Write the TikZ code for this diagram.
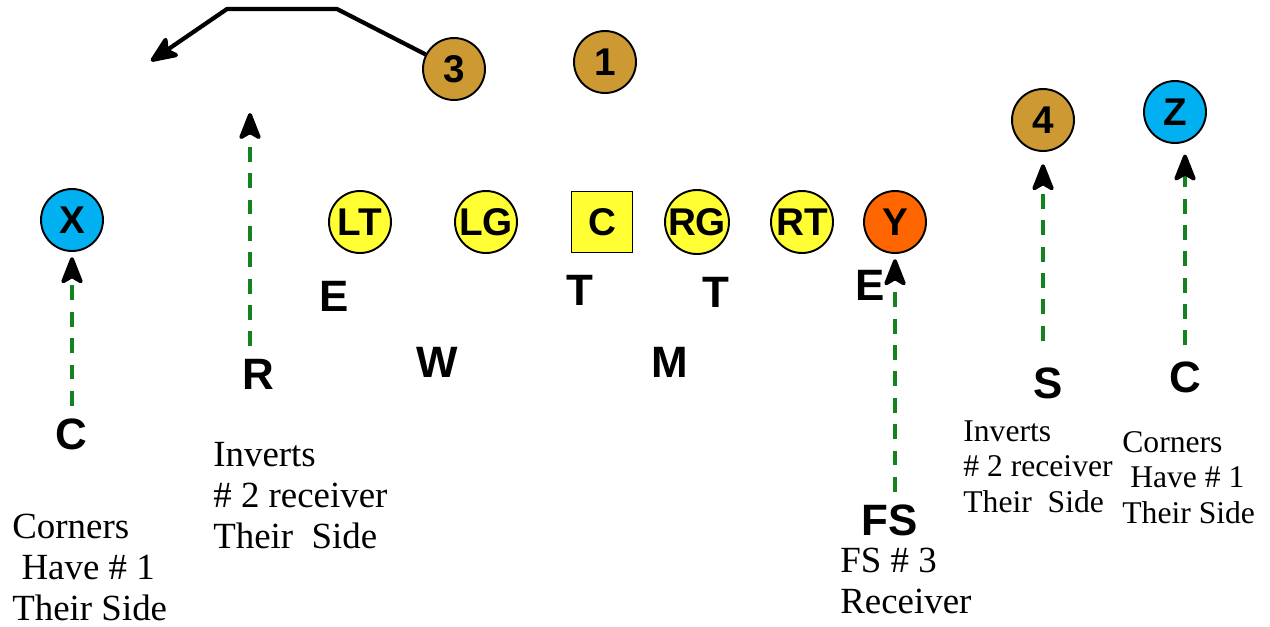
\documentclass[tikz,border=0pt]{standalone}
\usepackage{fontspec}
\setmainfont{Liberation Serif}
\setsansfont{Liberation Sans}
\usetikzlibrary{positioning, arrows.meta}
\definecolor{backgold}{RGB}{204,153,51}
\definecolor{wideblue}{RGB}{0,176,240}
\definecolor{lineyellow}{RGB}{255,255,51}
\definecolor{endorange}{RGB}{255,102,0}
\definecolor{readgreen}{RGB}{20,130,30}
\tikzstyle{Read} = [
%Dashed green read with a black tip:
line width = 2.2pt, draw = readgreen,
dash pattern = on 8.5pt off 6.5pt,
-{Stealth[black, round, length = 18pt, width = 14pt, inset = 4pt]},
shorten <= 7pt, shorten >= 3pt
]
\tikzstyle{Route} = [
line width = 2.4pt, line join = round,
-{Stealth[round, length = 18pt, width = 15pt, inset = 4pt]}
]

\begin{document}
\begin{tikzpicture}[x = 0.02cm, y = -0.02cm,
			player/.style = {circle, draw, line width = 1.1pt, minimum size = 1.24cm, inner sep = 0pt, font = \sffamily\bfseries\fontsize{22}{22}\selectfont},
			lineman/.style = {player, fill = lineyellow},
			back/.style = {player, fill = backgold},
			wide/.style = {player, fill = wideblue},
			snap/.style = {player, rectangle, minimum size = 1.22cm},
			defender/.style = {inner sep = 0pt, font = \sffamily\bfseries\fontsize{25}{25}\selectfont},
			note/.style = {inner sep = 0pt, align = left, anchor = base west, font = \fontsize{21}{23.3}\selectfont},
			smallnote/.style = {note, font = \fontsize{18}{20}\selectfont},
		]
		\useasboundingbox (0,0) rectangle (1270,626);

		% offense
		\node[wide](X) at (72,220){X};
		\node[lineman](LT) at (360,222){LT};
		\node[lineman](LG) at (486,222){LG};
		\node[snap, fill = lineyellow](Ctr) at (602,222){C};
		\node[lineman](RG) at (697,222){RG};
		\node[lineman](RT) at (802,222){RT};
		\node[player, fill = endorange](Y) at (895,222){Y};
		\node[back](p3) at (454,69){3};
		\node[back](p1) at (605,62){1};
		\node[back](p4) at (1043,120){4};
		\node[wide](Z) at (1175,112){Z};

		% defense
		\node[defender](Eleft) at (334,296){E};
		\node[defender](Tleft) at (580,290){T};
		\node[defender](Tright) at (716,292){T};
		\node[defender](Eright) at (870,285){E};
		\node[defender](W) at (437,362){W};
		\node[defender](M) at (670,362){M};
		\node[defender](R) at (258,374){R};
		\node[defender](cornerL) at (71,434){C};
		\node[defender](S) at (1048,383){S};
		\node[defender](cornerR) at (1185,377){C};
		\node[defender](FS) at (890,520){FS};

		% notes (anchored at the last line)
		\node[note](noteCL) at (12,620){Corners\\\ Have \# 1\\Their Side};
		\node[note](noteR) at (213,548){Inverts\\\# 2 receiver\\Their~ Side};
		\node[note](noteFS) at (840,613){FS \# 3\\Receiver};
		\node[smallnote](noteS) at (963,512){Inverts\\\# 2 receiver\\Their~ Side};
		\node[smallnote](noteCR) at (1122,523){Corners\\\ Have \# 1\\Their Side};

		% reads
		\coordinate(rTip) at (250,113);
		\draw[Read](cornerL.north -| X)--(X);
		\draw[Read, shorten >= 0pt](R.north -| rTip)--(rTip);
		\draw[Read](FS.north -| Y)--(Y);
		\draw[Read, shorten <= 15pt, shorten >= 7pt](S.north -| p4)--(p4);
		\draw[Read, shorten <= 9pt, shorten >= 6pt](cornerR.north)--(cornerR.north |- Z.south);

		% route of 3
		\coordinate(routeEnd) at (151,61);
		\draw[Route](p3)--(337,9)--(227,9)--(routeEnd);
	\end{tikzpicture}
\end{document}
